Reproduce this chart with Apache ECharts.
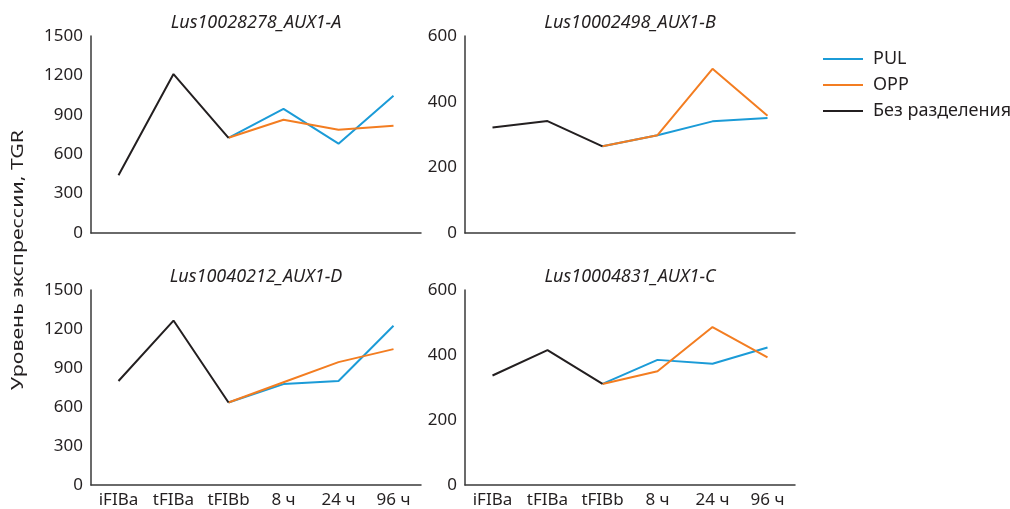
<!DOCTYPE html>
<html lang="ru">
<head>
    <meta charset="UTF-8">
    <title>AUX1</title>
    <script src="https://cdn.jsdelivr.net/npm/echarts@6/dist/echarts.min.js"></script>
    <style>
        html, body { margin: 0; padding: 0; background: #fff; }
        #chart { width: 1010px; height: 509px; }
    </style>
</head>
<body>
<div id="chart"></div>
<script>
    // categories
    var categories = ['iFIBa', 'tFIBa', 'tFIBb', '8 ч', '24 ч', '96 ч'];
    var titles = ['Lus10028278_AUX1-A', 'Lus10002498_AUX1-B', 'Lus10040212_AUX1-D', 'Lus10004831_AUX1-C'];

    // Lus10028278_AUX1-A
    var aTotal = [440, 1210, 725, '-', '-', '-'];
    var aPul = ['-', '-', 725, 945, 680, 1045];
    var aOpp = ['-', '-', 725, 862, 787, 817];

    // Lus10002498_AUX1-B
    var bTotal = [321, 341, 264, '-', '-', '-'];
    var bPul = ['-', '-', 264, 298, 340, 350];
    var bOpp = ['-', '-', 264, 298, 500, 357];

    // Lus10040212_AUX1-D
    var dTotal = [800, 1265, 635, '-', '-', '-'];
    var dPul = ['-', '-', 635, 776, 800, 1225];
    var dOpp = ['-', '-', 635, 790, 945, 1045];

    // Lus10004831_AUX1-C
    var cTotal = [337, 415, 311, '-', '-', '-'];
    var cPul = ['-', '-', 311, 385, 373, 423];
    var cOpp = ['-', '-', 311, 350, 486, 393];

    var bigTicks = { max: 1500, interval: 300 };
    var smallTicks = { max: 600, interval: 200 };

    var BLUE = '#1b9bd7', ORANGE = '#f37d21', BLACK = '#231f20';
    var FONT = '"Noto Sans", sans-serif';

    var panels = [
        { title: titles[0], total: aTotal, pul: aPul, opp: aOpp, ticks: bigTicks, left: 91, top: 36, labels: false },
        { title: titles[1], total: bTotal, pul: bPul, opp: bOpp, ticks: smallTicks, left: 465, top: 36, labels: false },
        { title: titles[2], total: dTotal, pul: dPul, opp: dOpp, ticks: bigTicks, left: 91, top: 290, labels: true },
        { title: titles[3], total: cTotal, pul: cPul, opp: cOpp, ticks: smallTicks, left: 465, top: 290, labels: true }
    ];

    var grid = [], xAxis = [], yAxis = [], series = [], title = [];
    panels.forEach(function (p, i) {
        grid.push({ left: p.left, top: p.top, width: 330, height: 197 });
        title.push({
            text: p.title, left: p.left + 160, top: p.top - 27, textAlign: 'center',
            textStyle: { fontFamily: FONT, fontSize: 18, fontStyle: 'italic', fontWeight: 'normal', color: BLACK }
        });
        xAxis.push({
            type: 'category', gridIndex: i, data: categories, boundaryGap: true,
            axisLine: { lineStyle: { color: '#3a3a3a', width: 1.5 } },
            axisTick: { show: false },
            axisLabel: { show: p.labels, fontFamily: FONT, fontSize: 17, color: BLACK, margin: 7, interval: 0 }
        });
        yAxis.push({
            type: 'value', gridIndex: i, min: 0, max: p.ticks.max, interval: p.ticks.interval,
            axisLine: { show: true, lineStyle: { color: '#3a3a3a', width: 1.5 } },
            axisTick: { show: false },
            splitLine: { show: false },
            axisLabel: {
                fontFamily: FONT, fontSize: 17, color: BLACK, margin: 8,
                formatter: function (v) { return String(v); }
            }
        });
        var lineOf = function (name, data, color) {
            return {
                name: name, type: 'line', xAxisIndex: i, yAxisIndex: i, data: data,
                symbol: 'none', connectNulls: false, silent: true,
                lineStyle: { color: color, width: 2 }, itemStyle: { color: color }
            };
        };
        series.push(lineOf('PUL', p.pul, BLUE));
        series.push(lineOf('OPP', p.opp, ORANGE));
        series.push(lineOf('Без разделения', p.total, BLACK));
    });

    var chart = echarts.init(document.getElementById('chart'));
    chart.setOption({
        animation: false,
        title: title,
        grid: grid,
        xAxis: xAxis,
        yAxis: yAxis,
        series: series,
        legend: {
            data: ['PUL', 'OPP', 'Без разделения'],
            orient: 'vertical', left: 818, top: 45, itemGap: 8,
            itemWidth: 40, itemHeight: 20,
            icon: 'path://M0,9L40,9L40,11L0,11Z',
            textStyle: { fontFamily: FONT, fontSize: 18, color: BLACK, padding: [0, 0, 0, 5] }
        },
        graphic: [{
            type: 'text', x: 18, y: 260, rotation: Math.PI / 2, scaleX: 1.25,
            style: {
                text: 'Уровень экспрессии, TGR',
                font: '17px "Noto Sans", sans-serif',
                fill: '#231f20',
                align: 'center',
                verticalAlign: 'middle'
            }
        }]
    });
</script>
</body>
</html>
